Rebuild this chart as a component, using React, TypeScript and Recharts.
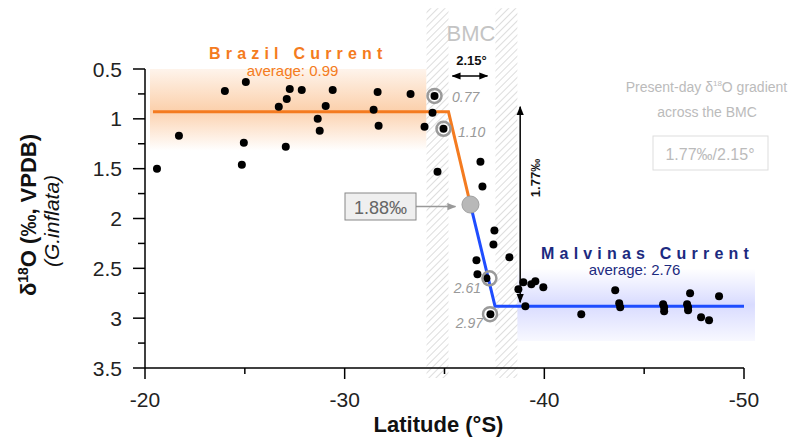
import React from 'react';
import {
  ComposedChart,
  Line,
  Scatter,
  XAxis,
  YAxis,
  ReferenceArea,
  ReferenceLine,
  ReferenceDot,
} from 'recharts';

const FONT = '"Liberation Sans", Arial, sans-serif';
const ORANGE = '#f47b20';
const BLUE = '#1f4dff';
const NAVY = '#1c2a80';

// core-top G. inflata samples
const sampleLat = [
  -20.6, -21.7, -24.0, -25.05, -24.95, -24.85, -26.7, -27.1, -27.25, -27.85, -27.05, -28.65, -28.75,
  -29.05, -29.4, -31.65, -31.45, -31.7, -33.3, -34.0, -34.5, -34.4, -34.95, -34.65, -36.8, -36.9,
  -37.5, -37.45, -38.25, -36.6, -36.65, -37.1, -37.3, -38.7, -38.95, -39.35, -39.55, -39.95, -39.05,
  -41.85, -43.55, -43.75, -43.8, -45.95, -46.0, -46.0, -47.3, -47.15, -47.2, -47.2, -47.85, -48.25,
  -48.75,
];
const sampleD18O = [
  1.5, 1.17, 0.72, 0.63, 1.24, 1.46, 0.88, 0.8, 0.7, 0.71, 1.28, 1.0, 1.12,
  0.87, 0.71, 0.73, 0.91, 1.07, 0.75, 1.08, 0.77, 0.94, 1.1, 1.53, 1.43, 1.68,
  2.12, 2.26, 2.39, 2.42, 2.56, 2.6, 2.96, 2.71, 2.64, 2.66, 2.63, 2.69, 2.88,
  2.96, 2.72, 2.85, 2.89, 2.86, 2.89, 2.93, 2.75, 2.86, 2.89, 2.92, 2.99, 3.02,
  2.78,
];

// fitted regimes
const brazilLat = [-20.4, -35.2, -36.3];
const brazilD18O = [0.93, 0.93, 1.86];
const malvinasLat = [-36.3, -37.53, -50.25];
const malvinasD18O = [1.86, 2.88, 2.88];

// BMC hatched strips
const bmcWest = [-34.1, -35.2];
const bmcEast = [-37.55, -38.65];

const circledLat = [-34.5, -34.95, -37.25, -37.28];
const circledD18O = [0.77, 1.1, 2.6, 2.96];

const xTicks = [-20, -25, -30, -35, -40, -45, -50];
const yTicks = [0.5, 0.75, 1, 1.25, 1.5, 1.75, 2, 2.25, 2.5, 2.75, 3, 3.25, 3.5];

const zip = (lat: number[], v: number[]) => lat.map((l, i) => ({ lat: l, d18o: v[i] }));
const samples = zip(sampleLat, sampleD18O);
const brazil = zip(brazilLat, brazilD18O);
const malvinas = zip(malvinasLat, malvinasD18O);

const YTick = ({ x, y, payload }: any) => {
  const major = Number.isInteger(payload.value * 2);
  return (
    <g>
      <line x1={x - (major ? 12 : 7)} x2={x} y1={y} y2={y} stroke="#000" strokeWidth={1.5} />
      {major && (
        <text x={x - 23} y={y + 7.5} textAnchor="end" fontSize={21} fontFamily={FONT} fill="#222">
          {String(payload.value)}
        </text>
      )}
    </g>
  );
};

const XTick = ({ x, y, payload }: any) => {
  const major = payload.value % 10 === 0;
  return (
    <g>
      <line x1={x} x2={x} y1={y} y2={y + (major ? 11 : 6)} stroke="#000" strokeWidth={1.5} />
      {major && (
        <text x={x} y={y + 39} textAnchor="middle" fontSize={21} fontFamily={FONT} fill="#222">
          {String(payload.value)}
        </text>
      )}
    </g>
  );
};

const arrowLine = (color: string, start: boolean) => (p: any) => (
  <line
    x1={p.x1}
    y1={p.y1}
    x2={p.x2}
    y2={p.y2}
    stroke={color}
    strokeWidth={1.5}
    markerEnd={`url(#${color === '#000' ? 'arrowK' : 'arrowG'})`}
    markerStart={start ? `url(#${color === '#000' ? 'arrowK' : 'arrowG'})` : undefined}
  />
);

const Dot = ({ cx, cy }: any) => <circle cx={cx} cy={cy} r={4} fill="#000" />;

export default function App() {
  return (
    <div style={{ position: 'absolute', left: 0, top: 0, width: 797, height: 440, background: '#fff' }}>
      <svg width={0} height={0} style={{ position: 'absolute' }}>
        <defs>
          <linearGradient id="gradBrazil" x1="0" y1="0" x2="0" y2="1">
            <stop offset="0" stopColor="#f8a35c" stopOpacity={0.12} />
            <stop offset="0.5" stopColor="#f8a35c" stopOpacity={0.5} />
            <stop offset="1" stopColor="#f8a35c" stopOpacity={0} />
          </linearGradient>
          <linearGradient id="gradMalvinas" x1="0" y1="0" x2="0" y2="1">
            <stop offset="0" stopColor="#c4c8ff" stopOpacity={0} />
            <stop offset="0.5" stopColor="#c4c8ff" stopOpacity={0.65} />
            <stop offset="1" stopColor="#c4c8ff" stopOpacity={0.12} />
          </linearGradient>
          <pattern id="hatch" width={5} height={5} patternUnits="userSpaceOnUse" patternTransform="rotate(45)">
            <rect width={5} height={5} fill="#fff" />
            <line x1={0} y1={0} x2={0} y2={5} stroke="#cfcfcf" strokeWidth={1.4} />
          </pattern>
          <marker id="arrowK" viewBox="0 0 10 10" refX={9} refY={5} markerWidth={6} markerHeight={6} orient="auto-start-reverse">
            <path d="M0,1 L10,5 L0,9 z" fill="#000" />
          </marker>
          <marker id="arrowG" viewBox="0 0 10 10" refX={9} refY={5} markerWidth={6} markerHeight={6} orient="auto-start-reverse">
            <path d="M0,1 L10,5 L0,9 z" fill="#999" />
          </marker>
        </defs>
      </svg>

      <ComposedChart width={797} height={440} margin={{ top: 69, right: 53, bottom: 0, left: 0 }}>
        <XAxis
          type="number"
          dataKey="lat"
          domain={[-50, -20]}
          reversed
          allowDataOverflow
          ticks={xTicks}
          interval={0}
          height={72}
          tickSize={0}
          tickMargin={0}
          tick={<XTick />}
          axisLine={{ stroke: '#000', strokeWidth: 1.5 }}
        />
        <YAxis
          type="number"
          dataKey="d18o"
          domain={[0.5, 3.5]}
          reversed
          allowDataOverflow
          ticks={yTicks}
          interval={0}
          width={145}
          tickSize={0}
          tickMargin={0}
          tick={<YTick />}
          axisLine={{ stroke: '#000', strokeWidth: 1.5 }}
        />

        <ReferenceArea x1={-20.25} x2={bmcWest[0]} y1={0.5} y2={1.32} fill="url(#gradBrazil)" fillOpacity={1} stroke="none" ifOverflow="visible" />
        <ReferenceArea x1={-37.6} x2={-50.55} y1={2.5} y2={3.23} fill="url(#gradMalvinas)" fillOpacity={1} stroke="none" ifOverflow="visible" />
        <ReferenceArea x1={bmcWest[0]} x2={bmcWest[1]} y1={-0.11} y2={3.6} fill="url(#hatch)" fillOpacity={1} stroke="none" ifOverflow="visible" />
        <ReferenceArea x1={bmcEast[0]} x2={bmcEast[1]} y1={-0.11} y2={3.6} fill="url(#hatch)" fillOpacity={1} stroke="none" ifOverflow="visible" />

        <Line data={brazil} dataKey="d18o" type="linear" stroke={ORANGE} strokeWidth={3} dot={false} isAnimationActive={false} />
        <Line data={malvinas} dataKey="d18o" type="linear" stroke={BLUE} strokeWidth={3} dot={false} isAnimationActive={false} />

        <ReferenceLine segment={[{ x: -35.4, y: 0.57 }, { x: -37.15, y: 0.57 }]} ifOverflow="visible" shape={arrowLine('#000', true)} />
        <ReferenceLine segment={[{ x: -38.79, y: 0.88 }, { x: -38.79, y: 2.84 }]} ifOverflow="visible" shape={arrowLine('#000', true)} />
        <ReferenceLine segment={[{ x: -33.55, y: 1.88 }, { x: -35.55, y: 1.88 }]} ifOverflow="visible" shape={arrowLine('#999', false)} />

        <ReferenceDot x={brazilLat[2]} y={brazilD18O[2]} r={8.5} fill="#b8b8b8" stroke="#a0a0a0" strokeWidth={1} />

        <Scatter data={samples} dataKey="d18o" shape={<Dot />} isAnimationActive={false} />

        {circledLat.map((l, i) => (
          <ReferenceDot key={i} x={l} y={circledD18O[i]} r={7} fill="none" stroke="#9a9a9a" strokeWidth={2.5} />
        ))}
      </ComposedChart>

      <svg width={797} height={440} style={{ position: 'absolute', left: 0, top: 0, pointerEvents: 'none' }} fontFamily={FONT}>
        <text x={471} y={41} textAnchor="middle" fontSize={22} fill="#c4c4c4">BMC</text>
        <text x={471.5} y={65} textAnchor="middle" fontSize={13} fontWeight="bold" fill="#111">2.15°</text>
        <text transform="translate(540,178) rotate(-90)" textAnchor="middle" fontSize={13} fontWeight="bold" fill="#111">1.77‰</text>

        <text x={209} y={59} fontSize={16} fontWeight="bold" letterSpacing={5.2} fill={ORANGE}>Brazil Current</text>
        <text x={292.5} y={76} textAnchor="middle" fontSize={15} fill={ORANGE}>average: 0.99</text>
        <text x={541} y={259} fontSize={16} fontWeight="bold" letterSpacing={5.2} fill={NAVY}>Malvinas Current</text>
        <text x={634.5} y={275} textAnchor="middle" fontSize={15} fill={NAVY}>average: 2.76</text>

        <g fontSize={14} fontStyle="italic" fill="#999">
          <text x={452} y={102}>0.77</text>
          <text x={458} y={137}>1.10</text>
          <text x={481} y={293} textAnchor="end">2.61</text>
          <text x={483} y={328} textAnchor="end">2.97</text>
        </g>

        <rect x={345} y={193} width={71} height={27} fill="#efefef" stroke="#888" strokeWidth={1} />
        <text x={380.5} y={214} textAnchor="middle" fontSize={18} fill="#666">1.88‰</text>

        <text x={706.5} y={92} textAnchor="middle" fontSize={14} fill="#bbb">
          Present-day δ<tspan fontSize={8} dy={-6}>18</tspan><tspan dy={6}>O gradient</tspan>
        </text>
        <text x={707} y={117} textAnchor="middle" fontSize={14} fill="#bbb">across the BMC</text>
        <rect x={653} y={136} width={115} height={34} fill="#fff" stroke="#ddd" strokeWidth={1} />
        <text x={710} y={160} textAnchor="middle" fontSize={16} fill="#bbb">1.77‰/2.15°</text>

        <text transform="translate(36,215) rotate(-90)" textAnchor="middle" fontSize={22} fontWeight="bold" fill="#111">
          δ<tspan fontSize={14} dy={-8}>18</tspan><tspan dy={8}>O (‰, VPDB)</tspan>
        </text>
        <text transform="translate(59,221) rotate(-90)" textAnchor="middle" fontSize={21} fontStyle="italic" fill="#111">
          (G.inflata)
        </text>
        <text x={438.5} y={432} textAnchor="middle" fontSize={22} fontWeight="bold" fill="#111">Latitude (°S)</text>
      </svg>
    </div>
  );
}
